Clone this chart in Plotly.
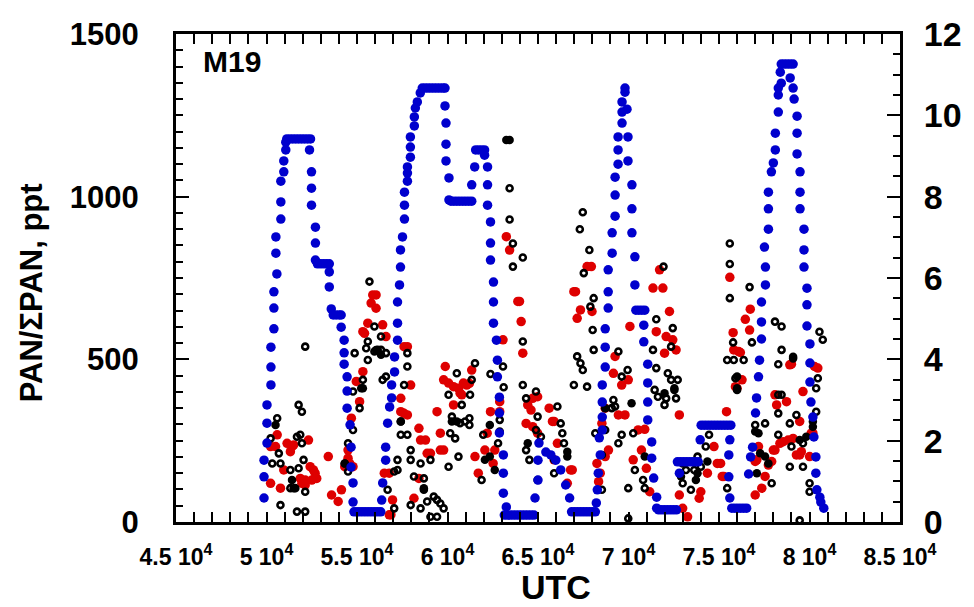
import plotly.graph_objects as go

# Flight altitude (km) vs UTC seconds -- right axis
alt_t = [49863, 49863, 49863, 50027, 50027, 50027, 50245, 50245, 50245, 50409, 50409, 50409,
         50573, 50519, 50519, 50792, 50792, 50792, 50956, 50956, 51065, 51065,
         51120, 51284, 51448, 51612, 51776, 51940, 52104, 52268, 52432,
         52377, 52486, 52486, 52486, 52704, 52704, 52704,
         52813, 52977, 53141, 53305, 53469,
         53469, 53469, 53578, 53688, 53852, 54016, 54125,
         54125, 54289, 54289, 54289, 54453, 54453, 54453, 54617, 54671, 54671, 54781, 54781,
         54835, 54999, 55163, 55327, 55491, 55655, 55819, 55983, 56147, 56311,
         56365, 56420, 56584, 56584, 56693, 56802, 56912, 56912, 57075, 57075, 57239, 57239, 57239,
         57349, 57403, 57403, 57513, 57622, 57622, 57622, 57786, 57786, 57786, 57950, 57950, 57950,
         58168, 58168, 58223, 58332, 58496,
         58605, 58769, 58933, 59097, 59261, 59425, 59589, 59753, 59862,
         59862, 59917, 59917, 59917, 60081, 60081,
         60190, 60354, 60518, 60682, 60846, 61010, 61174, 61338,
         61338, 61502, 61556, 61720, 61884, 62048,
         62048, 62212, 62212, 62212, 62376, 62376, 62376, 62540, 62540, 62540, 62704, 62758, 62758,
         62867, 62867, 62867, 63086, 63086, 63086, 63250,
         63140, 63304, 63468, 63633, 63796, 63960, 64124, 64288, 64452, 64616, 64780,
         64835, 64999, 64999, 65053, 65435, 65709, 65982, 66255, 66528, 66747,
         66856, 67020, 67184, 67348, 67512, 67676, 67840, 68004, 68168,
         68222, 68277, 68331, 68441, 68386, 68550, 68550, 68550, 68550, 68714, 68714, 68714,
         68878, 68878, 68878, 69096, 69096, 69260, 69260, 69260, 69424, 69424, 69424,
         69643, 69643, 69643, 69807, 69807, 69917, 69971, 69971, 70189, 70189, 70189, 70353, 70353,
         70408, 70572, 70736, 70899,
         70845, 70845, 71063, 71063, 71063, 71063, 71282, 71282, 71391, 71555, 71555,
         71664, 71828, 71992, 72156, 72320, 72484, 72648,
         72812, 72703, 72867, 73031, 73195, 73358, 73522, 73686, 73850, 73960,
         74014, 74178, 74342, 74506, 74670, 74833, 74997, 75161, 75325, 75489, 75653,
         75598, 75543, 75543, 75598,
         75708, 75872, 76036, 76200, 76364, 76527,
         76637, 76746, 76856, 77019, 77074, 77183, 77238, 77347, 77347, 77347, 77566, 77566,
         77511, 77730, 77730, 77730, 77894, 78003, 78112, 78112, 78276, 78276, 78276, 78440, 78385,
         78440, 78604, 78768, 78932, 79095,
         78932, 79095, 79150, 79314, 79314, 79314, 79478, 79478, 79478, 79696, 79696, 79696,
         79860, 79860, 79860, 80024, 80024, 80024, 80079, 80188, 80243, 80352, 80352, 80407,
         80571, 80625, 80789]
alt_km = [0.59, 1.11, 1.52, 1.94, 2.43, 2.88, 3.37, 3.81, 4.30, 4.75, 5.26, 5.66,
          6.10, 6.61, 7.01, 7.45, 7.87, 8.38, 8.61, 8.88, 9.15, 9.34,
          9.42, 9.42, 9.42, 9.42, 9.42, 9.42, 9.42, 9.42, 9.42,
          9.15, 8.61, 8.21, 7.79, 7.25, 6.86, 6.44,
          6.35, 6.35, 6.35, 6.35, 6.35,
          6.15, 5.78, 5.24, 5.09, 5.09, 5.09, 5.09,
          4.79, 4.47, 4.16, 3.88, 3.57, 3.22, 2.80, 2.39, 1.84, 1.35, 0.96, 0.49,
          0.25, 0.25, 0.25, 0.25, 0.25, 0.25, 0.25, 0.25, 0.25, 0.25,
          0.54, 0.96, 1.52, 1.84, 2.43, 2.83, 3.05, 3.37, 3.69, 4.06, 4.47, 4.89, 5.41,
          5.83, 6.27, 6.69, 7.01, 7.45, 7.79, 8.11, 8.38, 8.58, 8.73, 8.97, 9.22, 9.47,
          9.74, 9.96, 10.18, 10.33, 10.55,
          10.67, 10.67, 10.67, 10.67, 10.67, 10.67, 10.67, 10.67, 10.67,
          10.23, 9.81, 9.29, 8.88, 8.46, 7.92,
          7.89, 7.89, 7.89, 7.89, 7.89, 7.89, 7.89, 7.89,
          8.29, 8.73, 9.15, 9.15, 9.15, 9.15,
          9.02, 8.73, 8.29, 7.79, 7.38, 6.86, 6.44, 5.90, 5.41, 4.89, 4.47, 3.98, 3.57,
          3.07, 2.68, 2.19, 1.65, 1.20, 0.71, 0.37,
          0.17, 0.17, 0.17, 0.17, 0.17, 0.17, 0.17, 0.17, 0.17, 0.17, 0.17,
          0.59, 1.03, 1.52, 1.94, 1.72, 1.65, 1.52, 1.28, 0.91, 0.59,
          0.25, 0.25, 0.25, 0.25, 0.25, 0.25, 0.25, 0.25, 0.25,
          0.47, 0.79, 1.20, 1.65, 2.07, 2.26, 2.58, 2.95, 3.37, 3.81, 4.30, 4.75,
          5.26, 5.66, 6.20, 6.61, 7.11, 7.52, 8.04, 8.48, 8.80, 9.15, 9.47,
          9.81, 10.08, 10.33, 10.57, 10.67, 10.15, 9.47, 8.88, 8.29, 7.70, 7.11, 6.52, 5.83,
          5.21, 5.21, 5.21, 5.21,
          4.84, 4.43, 3.88, 3.42, 2.95, 2.51, 1.97, 1.57, 1.08, 0.61, 0.34,
          0.30, 0.30, 0.30, 0.30, 0.30, 0.30, 0.30,
          1.20, 1.48, 1.48, 1.48, 1.48, 1.48, 1.48, 1.48, 1.48, 2.02,
          2.38, 2.38, 2.38, 2.38, 2.38, 2.38, 2.38, 2.38, 2.38, 2.38, 2.38,
          2.02, 1.65, 1.11, 0.59,
          0.34, 0.34, 0.34, 0.34, 0.34, 0.34,
          1.18, 1.60, 1.84, 2.68, 3.05, 3.57, 3.98, 4.50, 4.92, 5.41, 5.83, 6.27,
          6.76, 7.20, 7.70, 8.11, 8.61, 8.83, 9.15, 9.56, 10.08, 10.50, 10.67, 10.79, 11.06,
          11.26, 11.26, 11.26, 11.26, 11.26,
          10.92, 10.67, 10.40, 9.98, 9.56, 9.05, 8.61, 8.11, 7.70, 7.20, 6.69, 6.27,
          5.75, 5.34, 4.82, 4.38, 3.91, 3.44, 2.95, 2.58, 2.09, 1.60, 1.20, 0.79,
          0.61, 0.49, 0.34]

# PAN (ppt) -- red filled circles
pan_t = [50226, 50499, 50590, 50226, 50772, 50954, 51137, 51410, 51501, 51319, 52320, 52411,
         52593, 52684, 52775, 52502, 51865, 51956, 52138, 52138, 53413, 53595, 53959, 54141,
         54505, 54505, 54596, 54323, 54779, 54688, 55143, 55325, 54961, 55598, 55416, 55325,
         55780, 55871, 56053, 56053, 56417, 56600, 57601, 57783, 57965, 57419, 57419, 57601,
         57783, 58421, 58512, 58785, 58876, 59058, 58421, 58147, 56782, 56509, 56964, 56782,
         56873, 59422, 59604, 59604, 59786, 59877, 59786, 60059, 60333, 60606, 60697, 60788,
         60333, 60879, 61061,
         61337, 61210, 62885, 62885, 62375, 62193, 61519, 61701, 62066, 62612, 62521, 63067,
         63887, 63978, 64069, 64160, 64706, 64979, 64433, 64615, 64342, 64706, 64979, 65617,
         65799, 65890, 66072, 65890, 66800, 66891, 66618, 66982, 67073, 67346, 67164, 67984,
         68712, 68530, 68894, 68712, 68257, 68439, 68348, 69258, 69167, 69623, 69987, 69441,
         69805, 70078, 70533, 70897, 70715, 70988, 70260, 71171, 71353, 71899, 71717, 71535,
         72263, 72081, 72445, 72627, 71990, 72809, 72809, 72992, 73265,
         75598, 75780, 75816, 76089, 76180, 75907, 75998, 76271, 76454, 76690, 76727, 75416,
         74724, 74906, 75088, 75179, 75270, 74359, 73995, 73904, 77000, 77364, 77546, 77728,
         77910, 78001, 78092, 77182, 77091, 77000, 78366, 78548, 78821, 79094, 79276, 79458,
         79549, 79640, 80005, 80096, 80187, 80278, 80460, 78092, 78184, 78730, 78912, 79003,
         79458,
         63249, 63431, 67711, 67947]
pan_ppt = [232, 232, 268, 119, 104, 160, 242, 232, 237, 216, 252, 170,
           160, 150, 134, 129, 134, 119, 129, 114, 201, 83, 63, 99,
           221, 196, 180, 170, 170, 319, 370, 462, 432, 611, 580, 585,
           673, 698, 698, 657, 606, 570, 539, 539, 421, 380, 339, 334,
           329, 288, 252, 252, 211, 211, 134, 73, 150, 150, 68, 22,
           22, 339, 273, 221, 221, 478, 437, 427, 416, 411, 396, 391,
           360, 427, 421,
           467, 426, 370, 339, 339, 273, 201, 150, 221, 221, 180, 560,
           678, 678, 616, 519, 380, 385, 360, 344, 303, 293, 273, 350,
           309, 309, 242, 191, 160, 160, 119, 708, 708, 652, 626, 647,
           350, 303, 221, 201, 180, 150, 124, 509, 457, 421, 437, 329,
           329, 601, 283, 285, 221, 165, 191, 93, 719, 719, 775, 585,
           647, 570, 560, 529, 519, 329, 83, 42, 16,
           752, 582, 529, 524, 521, 416, 411, 437, 623, 590, 654, 339,
           232, 180, 180, 140, 140, 150, 93, 73, 83, 104, 140, 175,
           186, 221, 221, 232, 191, 186, 242, 247, 252, 257, 206, 206,
           216, 401, 201, 273, 273, 478, 473, 391, 360, 370, 483, 485,
           309,
           877, 836, 785, 785]

# Sum of PANs (ppt) -- black open circles
sumpan_t = [52138, 55689, 55962, 55598, 55507, 55598, 56326, 56417, 56600, 56600, 56326, 56144,
            55962, 55325, 54870, 54779, 55234, 55143, 54779, 54505, 54323, 54505, 51774, 51956,
            50590, 50226, 50317, 50681, 50772, 50772, 51683, 51865, 51956, 52047, 51774, 51319,
            51319, 51592, 51683, 52138, 52138, 57419, 57419, 57783, 57965, 57237, 57237, 57055,
            56691, 57055, 57965, 58512, 58147, 58694, 57965, 58512, 59058, 58694, 58876, 59240,
            59422, 59058, 59422, 59786, 59604, 60059, 60151, 60424, 60697, 60606, 60242, 60788,
            60515, 60970, 57783, 57783, 57601, 60059,
            61519, 61337, 61246, 61210, 61210, 61975, 62375, 63067, 63103, 62885, 62885, 62794,
            61884, 64160, 64160, 64342, 64888, 64979, 64888, 64342, 64524, 64979, 66072, 66254,
            66345, 66436, 65890, 65161, 66982, 67164, 67346, 67474, 67711, 67529, 68020, 68075,
            67893, 68075, 69441, 69951, 69623, 69167, 69258, 69076, 68712, 68166, 68530, 68530,
            69441, 69623, 69987, 70351, 70260, 70806, 70897, 71535, 71535, 71353, 71444, 71626,
            71990, 72445, 72354, 72172, 72354, 72718, 72627, 72536, 72081, 72992, 73174, 73447,
            72992, 69987,
            75598, 76690, 75780, 76818, 75452, 75816, 76363, 75907, 75998, 78092, 78457, 78457,
            78275, 79094, 78275, 78457, 78275, 77546, 77000, 78275, 78912, 79276, 79003, 79640,
            78912, 79640, 77910, 75452, 74450, 74268, 73813, 80005, 80005, 80369, 80460, 80369,
            80551, 80733, 79458, 73995, 73631,
            63431, 63431, 63613, 64160, 63613, 67474, 67310, 67838, 71935, 75596, 75596]
sumpan_ppt = [539, 739, 601, 555, 534, 498, 570, 437, 447, 519, 529, 529,
              524, 437, 519, 401, 411, 350, 283, 242, 180, 155, 360, 339,
              319, 257, 180, 211, 180, 52, 262, 268, 242, 191, 165, 160,
              104, 104, 32, 32, 93, 309, 268, 268, 221, 191, 160, 155,
              99, 42, 191, 180, 140, 134, 52, 42, 191, 99, 63, 78,
              68, 16, 16, 42, 57, 391, 273, 257, 304, 201, 324, 360,
              457, 309, 519, 478, 421, 170,
              488, 437, 391, 319, 298, 268, 455, 478, 414, 314, 278, 242,
              129, 555, 421, 380, 401, 324, 283, 221, 191, 129, 355, 303,
              273, 242, 150, 262, 421, 509, 488, 467, 416, 765, 590, 688,
              662, 529, 524, 467, 447, 375, 355, 350, 283, 273, 206, 99,
              242, 268, 104, 160, 273, 129, 104, 623, 473, 529, 406, 385,
              360, 596, 539, 457, 437, 437, 380, 411, 380, 180, 160, 99,
              119, 11,
              688, 722, 552, 552, 498, 498, 498, 442, 406, 616, 601, 529,
              485, 503, 391, 391, 334, 303, 298, 268, 303, 329, 232, 242,
              170, 170, 119, 104, 268, 232, 201, 119, 93, 411, 442, 339,
              585, 560, 5, 170, 160,
              1026, 930, 856, 813, 785, 952, 900, 836, 785, 856, 793]

# Second PAN measurement (ppt) -- black filled circles
pan2_t = [50499, 51410, 51501, 55325, 56053, 56326, 57419, 58694, 60242, 60515, 54323,
          62339, 62339, 62612, 62066, 64433, 65890, 66618, 66618, 68712, 70169, 70897, 71990,
          72536, 72900,
          75998, 75998, 77000, 77182, 77091, 77273, 77546, 77728, 79094, 80187, 80187, 79458,
          79822, 73813, 73722, 74359,
          63249, 63431]
pan2_ppt = [298, 129, 104, 411, 529, 514, 309, 104, 309, 309, 180,
            298, 201, 160, 191, 242, 191, 216, 201, 350, 365, 201, 396,
            406, 140,
            447, 411, 278, 273, 150, 211, 201, 180, 508, 309, 293, 252,
            262, 150, 129, 186,
            1174, 1174]

x_ticks = [45000, 50000, 55000, 60000, 65000, 70000, 75000, 80000, 85000]
x_labels = ["4.5 10<sup>4</sup>", "5 10<sup>4</sup>", "5.5 10<sup>4</sup>", "6 10<sup>4</sup>",
            "6.5 10<sup>4</sup>", "7 10<sup>4</sup>", "7.5 10<sup>4</sup>", "8 10<sup>4</sup>",
            "8.5 10<sup>4</sup>"]

FONT = "Liberation Sans, Arial, Helvetica, sans-serif"

fig = go.Figure()
fig.add_trace(go.Scatter(x=alt_t, y=alt_km, yaxis="y2", mode="markers",
                         marker=dict(color="rgb(0,0,205)", size=9.5, line=dict(width=0)),
                         name="Altitude"))
fig.add_trace(go.Scatter(x=pan_t, y=pan_ppt, mode="markers",
                         marker=dict(color="rgb(222,0,0)", size=9.5, line=dict(width=0)),
                         name="PAN"))
fig.add_trace(go.Scatter(x=sumpan_t, y=sumpan_ppt, mode="markers",
                         marker=dict(symbol="circle-open", color="black", size=6,
                                     line=dict(width=2.6, color="black")),
                         name="ΣPAN"))
fig.add_trace(go.Scatter(x=pan2_t, y=pan2_ppt, mode="markers",
                         marker=dict(color="black", size=8.5, line=dict(width=0)),
                         name="PAN 2"))

axis_common = dict(showgrid=False, zeroline=False, showline=True, linecolor="black",
                   linewidth=3, ticks="inside", tickcolor="black", tickwidth=2)

fig.update_layout(
    width=974, height=607,
    margin=dict(l=176, r=66, t=34, b=85),
    paper_bgcolor="white", plot_bgcolor="white",
    showlegend=False,
    xaxis=dict(**axis_common, range=[45000, 85000], tickvals=x_ticks, ticktext=x_labels,
               ticklen=10, mirror="allticks",
               minor=dict(dtick=1000, ticklen=5, tickwidth=2, ticks="inside", tickcolor="black"),
               tickfont=dict(family=FONT, size=23, color="black", weight="bold"),
               ticklabelstandoff=12),
    yaxis=dict(**axis_common, range=[0, 1500], tickvals=[0, 500, 1000, 1500],
               ticklen=13,
               minor=dict(dtick=50, ticklen=7, tickwidth=2, ticks="inside", tickcolor="black"),
               tickfont=dict(family=FONT, size=31, color="black", weight="bold"),
               ticklabelstandoff=28),
    yaxis2=dict(**axis_common, range=[0, 12], overlaying="y", side="right", dtick=2,
                ticklen=13,
                minor=dict(dtick=0.5, ticklen=7, tickwidth=2, ticks="inside", tickcolor="black"),
                tickfont=dict(family=FONT, size=34, color="black", weight="bold"),
                ticklabelstandoff=14),
    annotations=[
        dict(text="M19", xref="paper", yref="paper", x=0.035, y=0.944,
             xanchor="left", yanchor="middle", showarrow=False,
             font=dict(family=FONT, size=30, color="black", weight="bold")),
        dict(text="PAN/ΣPAN, ppt", xref="paper", yref="paper", x=-0.2, y=0.469,
             xanchor="center", yanchor="middle", showarrow=False, textangle=-90,
             font=dict(family=FONT, size=31, color="black", weight="bold")),
        dict(text="UTC", xref="paper", yref="paper", x=0.5246, y=-0.134,
             xanchor="center", yanchor="middle", showarrow=False,
             font=dict(family=FONT, size=34, color="black", weight="bold")),
    ],
)

fig.write_html("out.html")
